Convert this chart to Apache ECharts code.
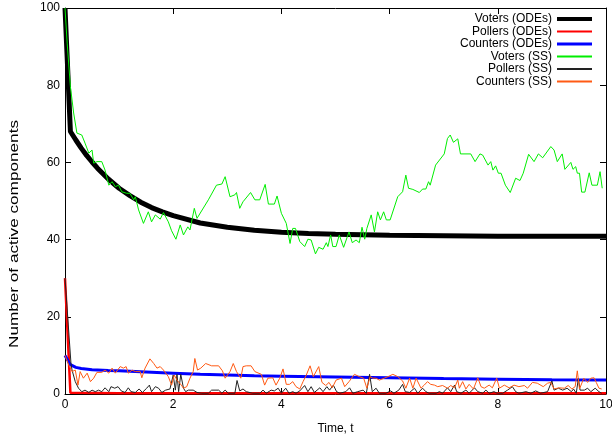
<!DOCTYPE html>
<html>
<head>
<meta charset="utf-8">
<script src="https://cdn.jsdelivr.net/npm/echarts@6/dist/echarts.min.js"></script>
<style>
html,body{margin:0;padding:0;background:#fff;}
#c{width:612px;height:438px;}
</style>
</head>
<body>
<div id="c"></div>
<script>
const xTicks = [0, 2, 4, 6, 8, 10];
const yTicks = [0, 20, 40, 60, 80, 100];
const seriesNames = ['Voters (ODEs)', 'Pollers (ODEs)', 'Counters (ODEs)', 'Voters (SS)', 'Pollers (SS)', 'Counters (SS)'];

const votersODE = [[0,100],[0.1,68],[0.2,65.8],[0.3,63.7],[0.4,61.8],[0.5,60.1],[0.6,58.5],[0.8,55.7],[1.0,53.3],[1.2,51.4],[1.4,49.7],[1.6,48.3],[1.8,47.2],[2.0,46.2],[2.5,44.3],[3.0,43.2],[3.5,42.4],[4.0,41.9],[4.5,41.6],[5,41.4],[6,41.1],[7,41.0],[8,40.9],[10,40.9]];
const pollersODE = [[0,30],[0.1,0.3],[1,0.2],[10,0.2]];
const countersODE = [[0,10],[0.1,7.6],[0.2,6.9],[0.3,6.6],[0.5,6.3],[0.8,6.1],[1,6.0],[1.5,5.7],[2,5.4],[2.5,5.1],[3,4.9],[3.5,4.7],[4,4.6],[5,4.4],[6,4.2],[7,4.0],[8,3.85],[9,3.7],[10,3.6]];

const votersSS = [[0,100],[0.04,90.9],[0.1,79.6],[0.16,72.8],[0.22,67.6],[0.31,67.1],[0.37,65],[0.44,62.4],[0.5,63.2],[0.53,59.8],[0.59,60.2],[0.68,60.2],[0.74,58],[0.81,54.1],[0.87,55],[0.93,53.7],[0.99,54.1],[1.05,52.4],[1.14,52],[1.2,52],[1.27,50.3],[1.3,51.1],[1.36,47.7],[1.45,44.2],[1.54,47.2],[1.6,44.6],[1.67,46.4],[1.76,45.3],[1.82,47],[1.91,44.6],[1.97,42.3],[2.05,40.1],[2.13,43.8],[2.19,41.2],[2.27,43.3],[2.31,42.5],[2.39,48.1],[2.44,45.5],[2.65,50.3],[2.8,54.1],[2.9,54.4],[2.96,56.3],[3.05,51.1],[3.14,51.6],[3.17,52.2],[3.23,48.1],[3.29,49.8],[3.43,52.2],[3.51,50.3],[3.6,50.3],[3.7,54.3],[3.76,49.2],[3.87,49.2],[3.92,51.3],[4.0,46.8],[4.09,44.2],[4.16,39.0],[4.21,42.9],[4.26,42.9],[4.34,39.5],[4.43,38.2],[4.49,40.1],[4.55,39.9],[4.63,36.3],[4.69,38],[4.77,37.5],[4.83,39.2],[4.86,38.2],[4.91,41.2],[4.95,38.2],[5.01,38.2],[5.07,41.2],[5.15,38],[5.25,42.0],[5.31,39.2],[5.38,39.9],[5.44,39.2],[5.49,43.2],[5.54,40.1],[5.58,42.9],[5.61,42.5],[5.66,46.4],[5.72,42.0],[5.78,47.2],[5.83,45.1],[5.89,47.2],[5.94,45.1],[6.01,45.1],[6.15,51.1],[6.24,52.4],[6.3,56.7],[6.35,53.3],[6.43,53.0],[6.55,52.2],[6.61,53.1],[6.67,53.1],[6.72,55],[6.75,54.1],[6.85,59.3],[7.01,62.2],[7.07,66.2],[7.12,67.1],[7.18,65.2],[7.26,66.1],[7.31,62.2],[7.5,62.2],[7.58,60.2],[7.67,62.2],[7.72,61.9],[7.82,59.3],[7.87,60.2],[7.91,58],[7.96,59.1],[8.01,57.2],[8.06,57.2],[8.14,54.1],[8.23,52.2],[8.33,55.9],[8.41,55.3],[8.47,57.2],[8.57,62.1],[8.67,60.2],[8.75,62.2],[8.83,61.2],[8.98,64.1],[9.04,63.2],[9.1,60.2],[9.19,62.2],[9.24,58.2],[9.35,60],[9.39,58.2],[9.44,58.9],[9.47,57.2],[9.51,57.2],[9.55,52.3],[9.61,52.3],[9.69,57.3],[9.74,54.1],[9.84,54.1],[9.89,57.6],[9.93,53.3]];

const pollersSS = [[0,30],[0.11,8],[0.13,6.2],[0.19,3.2],[0.25,1.5],[0.31,0.6],[0.37,1.0],[0.44,0.4],[0.5,1.0],[0.56,0.6],[0.62,1.0],[0.68,0.6],[0.74,1.6],[0.81,0.6],[0.85,1.9],[0.92,1.5],[0.98,1.9],[1.04,0.8],[1.11,0.4],[1.17,1.6],[1.22,0.6],[1.3,0.4],[1.37,1.3],[1.43,0.4],[1.51,1.5],[1.56,2.3],[1.6,0.6],[1.67,1.9],[1.73,1.5],[1.79,0.4],[1.86,1.0],[1.94,1.3],[2.0,4.9],[2.04,1.0],[2.07,5.1],[2.1,0.6],[2.14,5.1],[2.19,1.5],[2.23,0.6],[2.28,1.0],[2.37,1.0],[2.44,0.4],[2.53,0.2],[2.65,0.2],[2.71,1.0],[2.84,1.0],[2.9,0.2],[2.96,1.0],[3.02,0.2],[3.14,0.2],[3.18,3.5],[3.23,0.8],[3.29,1.3],[3.35,0.6],[3.47,0.2],[3.6,0.2],[3.66,1.0],[3.72,0.2],[3.81,1.0],[3.87,0.8],[3.94,1.5],[4.0,0.2],[4.08,1.5],[4.14,0.2],[4.21,0.6],[4.27,0.2],[4.34,0.8],[4.43,2.2],[4.49,0.6],[4.55,1.9],[4.61,0.4],[4.71,1.6],[4.77,0.6],[4.84,1.9],[4.89,1.0],[4.96,2.3],[5.02,0.6],[5.08,0.2],[5.19,0.6],[5.26,1.6],[5.32,0.2],[5.41,0.6],[5.51,1.0],[5.57,0.2],[5.63,5.1],[5.68,0.6],[5.75,1.5],[5.81,0.2],[5.93,0.2],[6.02,0.8],[6.08,0.2],[6.17,1.0],[6.24,2.5],[6.29,0.6],[6.37,0.4],[6.46,1.5],[6.52,0.2],[6.61,1.5],[6.67,0.6],[6.73,0.2],[6.86,0.2],[6.92,0.6],[6.98,0.2],[7.07,1.6],[7.13,0.6],[7.2,2.3],[7.24,0.6],[7.32,0.2],[7.41,1.0],[7.47,0.2],[7.57,1.6],[7.63,0.6],[7.72,0.2],[7.78,1.0],[7.84,0.2],[7.93,0.6],[7.99,0.2],[8.09,0.2],[8.18,1.0],[8.27,1.9],[8.33,0.6],[8.39,0.2],[8.52,0.6],[8.61,0.2],[8.7,0.8],[8.79,0.2],[8.92,0.6],[9.0,3.4],[9.04,1.0],[9.12,1.5],[9.2,1.0],[9.28,1.5],[9.36,0.6],[9.4,1.3],[9.45,0.2],[9.49,4.1],[9.52,1.0],[9.6,1.0],[9.66,1.5],[9.72,0.6],[9.8,1.5],[9.87,0.6],[9.92,0.2]];

const countersSS = [[0,10],[0.07,7.5],[0.13,5.8],[0.19,6.2],[0.24,2.3],[0.28,5.8],[0.34,4.1],[0.41,5.4],[0.47,3.2],[0.53,4.1],[0.59,5.6],[0.68,5.6],[0.74,6.2],[0.81,5.4],[0.87,6.7],[0.93,5.4],[1.02,7.1],[1.08,6.7],[1.13,7.1],[1.17,5.4],[1.24,6.2],[1.3,5.8],[1.39,5.8],[1.42,4.2],[1.48,6.7],[1.57,9.1],[1.64,7.9],[1.7,6.7],[1.76,7.1],[1.82,6.2],[1.91,4.5],[1.97,2.3],[2.02,4.9],[2.07,3.6],[2.15,2.3],[2.19,1.5],[2.25,1.9],[2.31,4.1],[2.37,5.8],[2.4,9.2],[2.45,6.2],[2.51,6.7],[2.6,7.9],[2.71,7.3],[2.84,7.3],[2.91,6.0],[2.96,4.1],[3.05,5.8],[3.11,7.9],[3.17,5.8],[3.25,4.1],[3.29,7.1],[3.35,7.3],[3.44,7.3],[3.51,5.8],[3.63,5.1],[3.69,2.3],[3.75,4.1],[3.84,4.2],[3.9,2.3],[3.97,4.1],[4.03,6.5],[4.09,2.5],[4.15,2.5],[4.21,3.2],[4.27,1.9],[4.34,1.3],[4.4,3.2],[4.46,4.9],[4.53,7.3],[4.59,4.5],[4.69,7.1],[4.75,3.0],[4.82,2.2],[4.88,3.0],[4.94,1.6],[5.01,3.6],[5.11,4.1],[5.17,1.9],[5.25,3.2],[5.35,5.1],[5.44,4.5],[5.52,4.1],[5.58,1.5],[5.64,4.5],[5.69,4.1],[5.75,4.1],[5.81,3.6],[5.9,4.1],[5.97,4.5],[6.06,5.1],[6.15,4.5],[6.24,3.4],[6.3,1.5],[6.37,4.1],[6.43,1.5],[6.49,4.1],[6.58,1.5],[6.64,2.3],[6.7,3.2],[6.76,2.5],[6.83,2.3],[6.89,1.9],[6.98,2.2],[7.07,1.5],[7.13,2.2],[7.2,1.6],[7.26,3.6],[7.29,1.5],[7.35,3.2],[7.41,1.3],[7.47,2.5],[7.55,1.3],[7.63,4.2],[7.69,1.9],[7.75,1.5],[7.84,2.3],[7.9,1.6],[7.98,4.1],[8.03,1.5],[8.12,2.3],[8.21,1.6],[8.3,2.3],[8.39,1.9],[8.49,2.2],[8.55,1.5],[8.64,3.0],[8.73,2.8],[8.84,1.9],[8.92,2.8],[8.98,3.0],[9.04,1.3],[9.13,1.6],[9.23,1.5],[9.3,2.2],[9.37,1.3],[9.43,1.9],[9.47,6.0],[9.51,1.3],[9.59,4.1],[9.66,3.0],[9.72,4.1],[9.78,4.2],[9.82,3.0],[9.87,1.5],[9.92,1.3]];

const FONT = 'Liberation Sans, Arial, Helvetica, sans-serif';
const chart = echarts.init(document.getElementById('c'), null, {renderer: 'canvas'});

const styles = [
  {color: '#000000', width: 5, icon: 4},
  {color: '#ff0000', width: 2.5, icon: 2},
  {color: '#0000ff', width: 3, icon: 3},
  {color: '#00ee00', width: 1, icon: 2},
  {color: '#222222', width: 1, icon: 2},
  {color: '#ff5a14', width: 1, icon: 2}
];
const dataSets = [votersODE, pollersODE, countersODE, votersSS, pollersSS, countersSS];

function mkLine(i) {
  return {
    name: seriesNames[i], type: 'line', data: dataSets[i], showSymbol: false, symbol: 'none',
    xAxisIndex: 0, yAxisIndex: 0,
    lineStyle: {color: styles[i].color, width: styles[i].width}, itemStyle: {color: styles[i].color},
    emphasis: {disabled: true}, sampling: null
  };
}

const axisCommonX = {
  type: 'value', min: xTicks[0], max: xTicks[xTicks.length - 1], interval: 2,
  splitLine: {show: false},
  axisLine: {show: true, onZero: false, lineStyle: {color: '#000', width: 1}},
  axisTick: {show: true, inside: true, length: 6, lineStyle: {color: '#000'}}
};
const axisCommonY = {
  type: 'value', min: yTicks[0], max: yTicks[yTicks.length - 1], interval: 20,
  splitLine: {show: false},
  axisLine: {show: true, onZero: false, lineStyle: {color: '#000', width: 1}},
  axisTick: {show: true, inside: true, length: 6, lineStyle: {color: '#000'}}
};

chart.setOption({
  animation: false,
  backgroundColor: '#fff',
  grid: {left: 65, right: 6, top: 8, bottom: 44, containLabel: false, outerBoundsMode: 'none'},
  xAxis: [
    Object.assign({}, axisCommonX, {
      position: 'bottom',
      name: 'Time, t', nameLocation: 'middle', nameGap: 29,
      nameTextStyle: {color: '#000', fontSize: 12, fontFamily: FONT},
      axisLabel: {show: true, margin: 5, color: '#000', fontSize: 12, fontFamily: FONT}
    }),
    Object.assign({}, axisCommonX, {position: 'top', axisLabel: {show: false}})
  ],
  yAxis: [
    Object.assign({}, axisCommonY, {
      position: 'left',
      axisLabel: {show: true, margin: 5, color: '#000', fontSize: 12, fontFamily: FONT}
    }),
    Object.assign({}, axisCommonY, {position: 'right', axisLabel: {show: false}})
  ],
  legend: {
    orient: 'vertical', right: 20, top: 13, padding: 0,
    align: 'right', itemWidth: 35, itemHeight: 12, itemGap: 0.5,
    symbolKeepAspect: true,
    selectedMode: false,
    textStyle: {color: '#000', fontSize: 12, fontFamily: FONT},
    data: seriesNames.map(function (n, i) {
      const h = styles[i].icon;
      return {
        name: n,
        icon: 'path://M0,0L35,0L35,' + h + 'L0,' + h + 'Z',
        itemStyle: {color: styles[i].color, borderWidth: 0}
      };
    })
  },
  graphic: [{
    type: 'text', x: 15, y: 234, rotation: Math.PI / 2, scaleX: 1.43, scaleY: 1,
    style: {text: 'Number of active components', fill: '#000', font: '12px ' + FONT,
            align: 'center', verticalAlign: 'middle'}
  }],
  series: [0, 1, 2, 3, 4, 5].map(mkLine)
});
</script>
</body>
</html>
